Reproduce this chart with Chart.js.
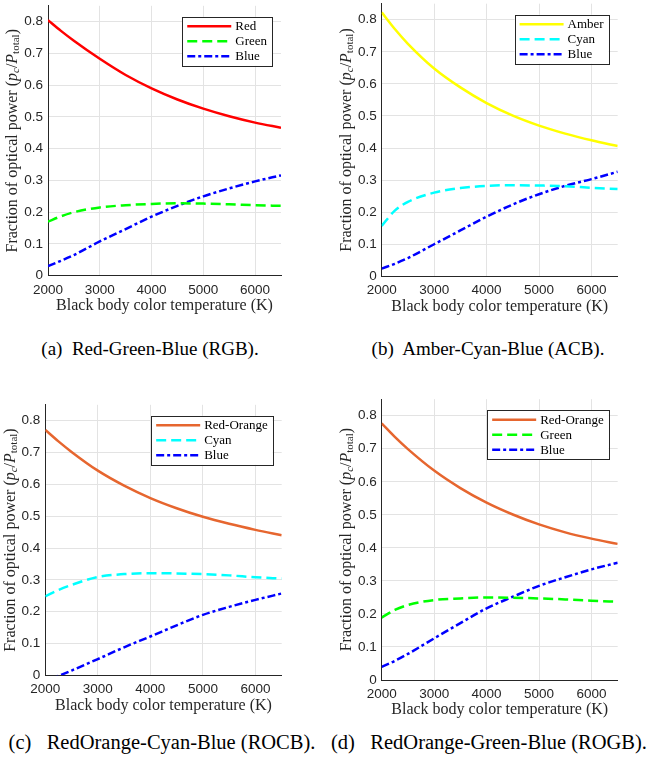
<!DOCTYPE html>
<html>
<head>
<meta charset="utf-8">
<script src="https://cdn.jsdelivr.net/npm/chart.js@4/dist/chart.umd.min.js"></script>
<style>
  html, body { margin: 0; padding: 0; background: #ffffff; }
  body { position: relative; width: 653px; height: 760px; overflow: hidden; }
  canvas { position: absolute; }
  .cap {
    position: absolute;
    font-family: "Liberation Serif", "Times New Roman", serif;
    color: #000;
    white-space: pre;
    transform: translate(-50%, -50%);
    line-height: 1;
  }
  .top { font-size: 19px; }
  .bottom { font-size: 20.5px; }
</style>
</head>
<body>
<canvas id="chartA"></canvas>
<canvas id="chartB"></canvas>
<canvas id="chartC"></canvas>
<canvas id="chartD"></canvas>
<div class="cap top" style="left:150px;top:348px">(a)  Red-Green-Blue (RGB).</div>
<div class="cap top" style="left:488px;top:348px">(b)  Amber-Cyan-Blue (ACB).</div>
<div class="cap bottom" style="left:162px;top:742px">(c)   RedOrange-Cyan-Blue (ROCB).</div>
<div class="cap bottom" style="left:489px;top:742px">(d)   RedOrange-Green-Blue (ROGB).</div>
<script>
// Black body colour temperature (K) at which each mix is evaluated
const temperatures = [2000, 2250, 2500, 3000, 3500, 4000, 4500, 5000, 5500, 6000, 6500];
const xTickValues = [2000, 3000, 4000, 5000, 6000];
const yTickValues = [0, 0.1, 0.2, 0.3, 0.4, 0.5, 0.6, 0.7, 0.8];

// (a) Red-Green-Blue
const rgbRed   = [0.805, 0.771, 0.740, 0.683, 0.632, 0.590, 0.555, 0.526, 0.502, 0.482, 0.466];
const rgbGreen = [0.170, 0.187, 0.200, 0.215, 0.222, 0.226, 0.228, 0.227, 0.225, 0.222, 0.220];
const rgbBlue  = [0.030, 0.047, 0.065, 0.108, 0.147, 0.186, 0.220, 0.250, 0.275, 0.297, 0.316];

// (b) Amber-Cyan-Blue
const acbAmber = [0.823, 0.771, 0.725, 0.648, 0.589, 0.540, 0.501, 0.470, 0.445, 0.424, 0.406];
const acbCyan  = [0.157, 0.205, 0.232, 0.261, 0.275, 0.282, 0.284, 0.283, 0.281, 0.276, 0.272];
const acbBlue  = [0.024, 0.039, 0.057, 0.100, 0.143, 0.186, 0.224, 0.256, 0.282, 0.303, 0.326];

// (c) RedOrange-Cyan-Blue
const rocbRedOrange = [0.771, 0.735, 0.702, 0.643, 0.596, 0.557, 0.525, 0.498, 0.476, 0.457, 0.440];
const rocbCyan      = [0.248, 0.268, 0.284, 0.309, 0.318, 0.321, 0.320, 0.318, 0.314, 0.308, 0.304];
const rocbBlue      = [-0.018, -0.002, 0.015, 0.051, 0.088, 0.122, 0.157, 0.190, 0.215, 0.237, 0.257];

// (d) RedOrange-Green-Blue
const rogbRedOrange = [0.777, 0.736, 0.699, 0.634, 0.581, 0.537, 0.501, 0.471, 0.447, 0.428, 0.412];
const rogbGreen     = [0.189, 0.212, 0.227, 0.242, 0.247, 0.250, 0.249, 0.247, 0.244, 0.240, 0.237];
const rogbBlue      = [0.040, 0.058, 0.079, 0.126, 0.172, 0.217, 0.252, 0.285, 0.311, 0.335, 0.355];

const xTitle = 'Black body color temperature (K)';
const yTitleParts = [
  { text: 'Fraction of optical power (', style: 'normal', size: 16, dy: 0 },
  { text: 'p', style: 'italic', size: 16, dy: 0 },
  { text: 'c', style: 'italic', size: 11, dy: 3.5 },
  { text: '/', style: 'normal', size: 16, dy: 0 },
  { text: 'P', style: 'italic', size: 16, dy: 0 },
  { text: 'total', style: 'normal', size: 11, dy: 3.5 },
  { text: ')', style: 'normal', size: 16, dy: 0 }
];

const INK = '#262626';
const SERIF = '"Liberation Serif", "Times New Roman", serif';
const SANS = '"Liberation Sans", Arial, Helvetica, sans-serif';
const DASHES = { solid: [], dash: [10, 5], dashdot: [8, 3, 3, 3] };

// Axis titles and an in-plot boxed legend
const decorations = {
  id: 'decorations',
  afterDraw(chart) {
    const ctx = chart.ctx;
    const a = chart.chartArea;
    ctx.save();

    // x-axis title
    ctx.fillStyle = INK;
    ctx.font = '16px ' + SERIF;
    ctx.textAlign = 'center';
    ctx.textBaseline = 'middle';
    ctx.fillText(xTitle, (a.left + a.right) / 2, a.bottom + 30);

    // y-axis title with sub-scripted symbols
    ctx.save();
    ctx.translate(a.left - 35, (a.top + a.bottom) / 2);
    ctx.rotate(-Math.PI / 2);
    ctx.textAlign = 'left';
    let total = 0;
    for (const p of yTitleParts) {
      ctx.font = p.style + ' ' + p.size + 'px ' + SERIF;
      total += ctx.measureText(p.text).width;
    }
    let x = -total / 2;
    for (const p of yTitleParts) {
      ctx.font = p.style + ' ' + p.size + 'px ' + SERIF;
      ctx.fillText(p.text, x, p.dy);
      x += ctx.measureText(p.text).width;
    }
    ctx.restore();

    // legend box
    const sets = chart.data.datasets;
    ctx.font = '13px ' + SERIF;
    let maxW = 0;
    sets.forEach(d => { maxW = Math.max(maxW, ctx.measureText(d.label).width); });
    const lineLen = 44, rowH = 15, padTop = 9.5;
    const boxW = 5 + lineLen + 4 + maxW + 5;
    const boxH = padTop * 2 + rowH * (sets.length - 1);
    const bx = a.right - 9 - boxW;
    const by = a.top + 11;
    ctx.fillStyle = '#ffffff';
    ctx.fillRect(bx, by, boxW, boxH);
    ctx.strokeStyle = INK;
    ctx.lineWidth = 1;
    ctx.strokeRect(Math.round(bx) + 0.5, Math.round(by) + 0.5, Math.round(boxW), Math.round(boxH));
    sets.forEach((d, i) => {
      const yy = by + padTop + i * rowH;
      ctx.save();
      ctx.strokeStyle = d.borderColor;
      ctx.lineWidth = d.borderWidth;
      ctx.lineCap = 'butt';
      ctx.setLineDash(d.borderDash || []);
      ctx.beginPath();
      ctx.moveTo(bx + 5, yy);
      ctx.lineTo(bx + 5 + lineLen, yy);
      ctx.stroke();
      ctx.restore();
      ctx.fillStyle = '#000';
      ctx.textAlign = 'left';
      ctx.textBaseline = 'middle';
      ctx.fillText(d.label, bx + 5 + lineLen + 4, yy + 0.5);
    });
    ctx.restore();
  }
};

function makeDataset(label, values, color, style) {
  return {
    label: label,
    data: temperatures.map((t, i) => ({ x: t, y: values[i] })),
    borderColor: color,
    backgroundColor: color,
    borderWidth: 2.5,
    borderDash: DASHES[style],
    borderCapStyle: 'butt',
    pointRadius: 0,
    fill: false,
    cubicInterpolationMode: 'monotone'
  };
}

function makePanel(canvasId, plot, originX, datasets) {
  const canvas = document.getElementById(canvasId);
  const top = Math.floor(plot.t) - 16;
  const width = Math.ceil(plot.r - originX) + 22;
  const height = Math.ceil(plot.b - top) + 50;
  canvas.width = width;
  canvas.height = height;
  canvas.style.left = originX + 'px';
  canvas.style.top = top + 'px';
  canvas.style.width = width + 'px';
  canvas.style.height = height + 'px';

  const yAxisW = plot.l - originX;
  const xAxisH = height - (plot.b - top);

  new Chart(canvas, {
    type: 'line',
    data: { datasets: datasets },
    options: {
      responsive: false,
      animation: false,
      devicePixelRatio: 1,
      layout: { padding: { left: 0, top: plot.t - top, right: width - (plot.r - originX), bottom: 0 } },
      plugins: { legend: { display: false }, tooltip: { enabled: false } },
      scales: {
        x: {
          type: 'linear',
          min: 2000,
          max: 6500,
          afterFit: s => { s.height = xAxisH; },
          afterBuildTicks: s => { s.ticks = xTickValues.map(v => ({ value: v })); },
          ticks: {
            color: INK,
            font: { family: SANS, size: 13.5 },
            padding: 6,
            maxRotation: 0,
            callback: v => String(v)
          },
          grid: { color: '#e3e3e3', lineWidth: 1, drawTicks: false },
          border: { display: true, color: INK, width: 1 }
        },
        y: {
          type: 'linear',
          min: 0,
          max: 0.85,
          afterFit: s => { s.width = yAxisW; },
          afterBuildTicks: s => { s.ticks = yTickValues.map(v => ({ value: v })); },
          ticks: {
            color: INK,
            font: { family: SANS, size: 13.5 },
            padding: 5,
            callback: v => (v === 0 ? '0' : v.toFixed(1))
          },
          grid: { color: '#e3e3e3', lineWidth: 1, drawTicks: false },
          border: { display: true, color: INK, width: 1 }
        }
      }
    },
    plugins: [decorations]
  });
}

const RED = '#ff0000', GREEN = '#00ff00', BLUE = '#0000ff';
const AMBER = '#ffff00', CYAN = '#00ffff', RED_ORANGE = '#e6662f';

makePanel('chartA', { l: 48, r: 281, t: 5.8, b: 275.7 }, 0, [
  makeDataset('Red', rgbRed, RED, 'solid'),
  makeDataset('Green', rgbGreen, GREEN, 'dash'),
  makeDataset('Blue', rgbBlue, BLUE, 'dashdot')
]);
makePanel('chartB', { l: 381.7, r: 617.7, t: 3.7, b: 276.3 }, 330, [
  makeDataset('Amber', acbAmber, AMBER, 'solid'),
  makeDataset('Cyan', acbCyan, CYAN, 'dash'),
  makeDataset('Blue', acbBlue, BLUE, 'dashdot')
]);
makePanel('chartC', { l: 45.3, r: 281.7, t: 404.8, b: 675.3 }, 0, [
  makeDataset('Red-Orange', rocbRedOrange, RED_ORANGE, 'solid'),
  makeDataset('Cyan', rocbCyan, CYAN, 'dash'),
  makeDataset('Blue', rocbBlue, BLUE, 'dashdot')
]);
makePanel('chartD', { l: 381.7, r: 617.7, t: 399.2, b: 680 }, 330, [
  makeDataset('Red-Orange', rogbRedOrange, RED_ORANGE, 'solid'),
  makeDataset('Green', rogbGreen, GREEN, 'dash'),
  makeDataset('Blue', rogbBlue, BLUE, 'dashdot')
]);
</script>
</body>
</html>
